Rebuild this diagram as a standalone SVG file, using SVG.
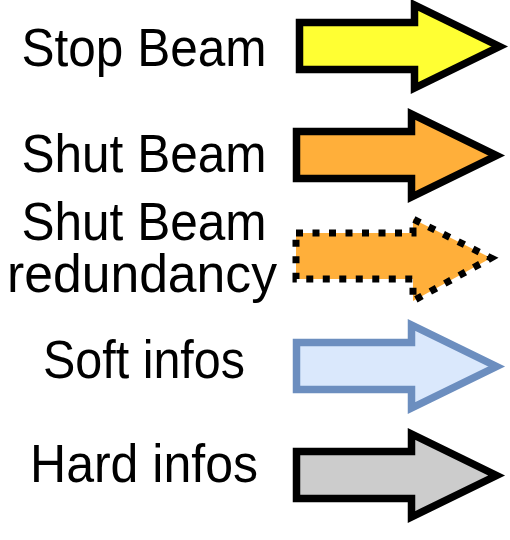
<svg xmlns="http://www.w3.org/2000/svg" xmlns:xlink="http://www.w3.org/1999/xlink" width="510" height="540" viewBox="0 0 510 540">
  <style>
    .lbl { font-family: "Liberation Sans", Arial, sans-serif; font-size: 54px; fill: #000; text-anchor: middle; }
    .arrow { stroke-width: 7.5; stroke-linejoin: miter; stroke-miterlimit: 10; }
    .stop { fill: #FFFF33; stroke: #000; }
    .shut { fill: #FFAF3A; stroke: #000; }
    .red { fill: #FFAF3A; stroke: #000; stroke-width: 7; stroke-dasharray: 7 9.5; }
    .soft { fill: #DAE8FC; stroke: #6C8EBF; }
    .hard { fill: #CCCCCC; stroke: #000; }
  </style>
  <defs>
    <path id="arrowShape" d="M3.5,23.5 H118.5 V6 L203.5,47.5 L118.5,89 V70.5 H3.5 Z"/>
  </defs>
  <rect width="510" height="540" fill="#fff"/>
  <g id="connectors"/>
  <g id="stop-beam">
    <text class="lbl" x="144" y="66" textLength="245" lengthAdjust="spacingAndGlyphs">Stop Beam</text>
    <use href="#arrowShape" xlink:href="#arrowShape" class="arrow stop" transform="translate(296,-1)"/>
  </g>
  <g id="shut-beam">
    <text class="lbl" x="144" y="172" textLength="245" lengthAdjust="spacingAndGlyphs">Shut Beam</text>
    <use href="#arrowShape" xlink:href="#arrowShape" class="arrow shut" transform="translate(293,108)"/>
  </g>
  <g id="shut-beam-redundancy">
    <text class="lbl" x="144" y="240" textLength="245" lengthAdjust="spacingAndGlyphs">Shut Beam</text>
    <text class="lbl" x="142" y="292" textLength="270" lengthAdjust="spacingAndGlyphs">redundancy</text>
    <path class="red" d="M296,233 H413 V219 L491,258 L413,301 V279 H296 Z"/>
  </g>
  <g id="soft-infos">
    <text class="lbl" x="144" y="378" textLength="202" lengthAdjust="spacingAndGlyphs">Soft infos</text>
    <use href="#arrowShape" xlink:href="#arrowShape" class="arrow soft" transform="translate(293,319)"/>
  </g>
  <g id="hard-infos">
    <text class="lbl" x="144" y="482" textLength="228" lengthAdjust="spacingAndGlyphs">Hard infos</text>
    <use href="#arrowShape" xlink:href="#arrowShape" class="arrow hard" transform="translate(293,428)"/>
  </g>
</svg>
